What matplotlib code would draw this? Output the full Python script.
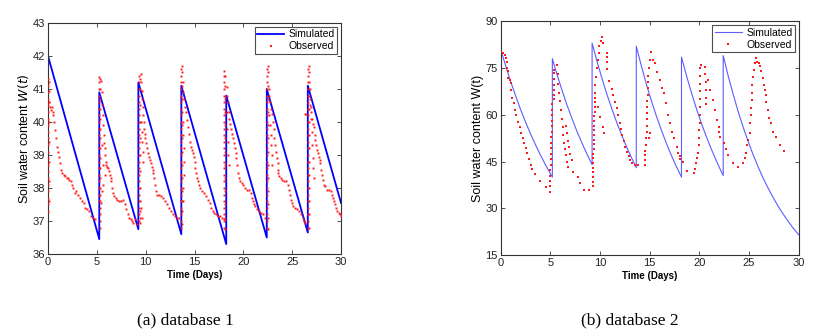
import matplotlib
matplotlib.use("Agg")
import matplotlib.pyplot as plt
import numpy as np

plt.rcParams['font.family'] = ['Liberation Sans', 'DejaVu Sans']

# ---------------- database 1 ----------------
sim1_t = [0, 5.25, 5.25, 9.25, 9.25, 13.65, 13.65, 18.25, 18.25, 22.4, 22.4, 26.6, 26.6, 30]
sim1_w = [42.0, 36.45, 40.9, 36.75, 41.2, 36.6, 41.1, 36.3, 40.8, 36.5, 41.0, 36.65, 41.1, 37.55]

# rise columns (time, list of water contents)
rise1_times = [0.03, 0.06, 5.25, 5.35, 9.3, 9.42, 13.62, 13.72, 18.0, 18.15, 22.4, 22.52, 26.6, 26.7]
rise1_values = [
    [37.3, 37.5, 37.7, 37.9, 38.1, 38.3, 38.5, 38.7, 38.9, 39.1, 39.3, 39.5, 39.7, 39.9, 40.1, 40.3, 40.5, 40.7, 40.9, 41.1, 41.3],
    [37.6, 38.2, 38.8, 39.4, 40.0, 40.6, 41.2],
    [37.6, 37.8, 38.0, 38.2, 38.4, 38.6, 38.8, 39.0, 39.2, 39.4, 39.6, 39.8, 40.0, 40.2, 40.4, 40.6, 40.8, 41.0, 41.2, 41.35],
    [36.8, 37.0, 37.2, 37.4, 37.6, 37.8, 38.0, 38.3, 38.6, 38.9, 39.2, 39.5, 39.8, 40.1, 40.4, 40.7, 41.0, 41.3],
    [37.0, 37.2, 37.4, 37.6, 37.8, 38.0, 38.2, 38.4, 38.6, 38.8, 39.0, 39.2, 39.4, 39.6, 39.8, 40.0, 40.2, 40.4, 40.6, 40.8, 41.0, 41.2, 41.4],
    [36.95, 37.1, 37.3, 37.6, 38.0, 38.5, 39.0, 39.5, 40.0, 40.5, 41.0, 41.3],
    [36.8, 37.0, 37.2, 37.4, 37.6, 37.8, 38.0, 38.2, 38.4, 38.6, 38.8, 39.0, 39.2, 39.4, 39.6, 39.8, 40.0, 40.2, 40.4, 40.6, 40.8, 41.0, 41.2, 41.4, 41.6],
    [36.9, 37.3, 37.6, 37.9, 38.3, 38.7, 39.1, 39.5, 39.9, 40.3, 40.7, 41.1, 41.5, 41.7],
    [36.8, 37.0, 37.2, 37.4, 37.6, 37.8, 38.0, 38.2, 38.4, 38.6, 38.8, 39.0, 39.2, 39.4, 39.6, 39.8, 40.0, 40.2, 40.4, 40.6, 40.8, 41.0, 41.2, 41.4, 41.55],
    [36.75, 37.1, 37.5, 37.9, 38.3, 38.7, 39.1, 39.5, 39.9, 40.3, 40.7, 41.1, 41.4],
    [36.8, 37.0, 37.2, 37.4, 37.6, 37.8, 38.0, 38.2, 38.4, 38.6, 38.8, 39.0, 39.2, 39.4, 39.6, 39.8, 40.0, 40.2, 40.4, 40.6, 40.8, 41.0, 41.2, 41.4, 41.6],
    [36.75, 37.1, 37.5, 37.9, 38.3, 38.7, 39.1, 39.5, 39.9, 40.3, 40.7, 41.1, 41.5, 41.7],
    [36.8, 37.0, 37.2, 37.4, 37.6, 37.8, 38.0, 38.2, 38.4, 38.6, 38.8, 39.0, 39.2, 39.4, 39.6, 39.8, 40.0, 40.2, 40.4, 40.6, 40.8, 41.0, 41.2, 41.4, 41.6],
    [36.8, 37.2, 37.6, 38.0, 38.4, 38.8, 39.2, 39.6, 40.0, 40.4, 40.8, 41.2, 41.5, 41.7],
]

# decay points (t, W)
decay1_c0 = [(0.1, 40.95), (0.15, 40.6), (0.2, 40.45), (0.3, 40.35), (0.4, 40.45), (0.5, 40.3), (0.55, 40.2),
             (0.65, 40.0), (0.75, 39.75), (0.85, 39.5), (0.95, 39.25), (1.05, 39.1), (1.15, 38.95), (1.25, 38.75),
             (1.35, 38.55), (1.45, 38.45), (1.6, 38.4), (1.75, 38.35), (1.9, 38.3), (2.05, 38.3), (2.2, 38.25),
             (2.35, 38.2), (2.5, 38.1), (2.6, 38.0), (2.75, 37.85), (2.9, 37.9), (3.1, 37.8), (3.3, 37.7),
             (3.5, 37.6), (3.65, 37.55), (3.8, 37.4), (4.0, 37.35), (4.2, 37.3), (4.4, 37.15), (4.6, 37.1), (4.8, 37.05)]
decay1_c1 = [(5.45, 41.25), (5.5, 40.9), (5.55, 40.5), (5.6, 40.2), (5.65, 39.9), (5.7, 39.6), (5.75, 39.35),
             (5.8, 39.2), (5.85, 39.0), (5.9, 38.8), (5.95, 38.7), (6.0, 38.65), (6.1, 38.6), (6.2, 38.5),
             (6.3, 38.4), (6.4, 38.3), (6.5, 38.2), (6.6, 38.0), (6.7, 37.85), (6.8, 37.75), (6.95, 37.7),
             (7.1, 37.65), (7.3, 37.6), (7.5, 37.6), (7.7, 37.65), (7.85, 37.5), (8.0, 37.35), (8.15, 37.2),
             (8.3, 37.1), (8.45, 37.05), (8.6, 37.0), (8.75, 36.95), (8.9, 37.05), (9.1, 36.9),
             (5.56, 39.3), (5.66, 38.7), (5.8, 38.4), (5.66, 38.1), (5.56, 37.9), (5.46, 37.55)]
decay1_c2 = [(9.5, 41.45), (9.55, 41.2), (9.6, 40.95), (9.65, 40.7), (9.7, 40.45), (9.75, 40.2), (9.8, 40.0),
             (9.85, 39.8), (9.9, 39.65), (9.95, 39.5), (10.0, 39.35), (10.1, 39.2), (10.2, 39.05), (10.3, 38.95),
             (10.4, 38.85), (10.5, 38.75), (10.6, 38.65), (10.7, 38.55), (10.8, 38.45), (10.9, 38.3), (11.0, 38.1),
             (11.1, 37.9), (11.2, 37.8), (11.4, 37.8), (11.6, 37.75), (11.8, 37.7), (12.0, 37.6), (12.2, 37.5),
             (12.4, 37.4), (12.6, 37.3), (12.8, 37.2), (13.0, 37.15), (13.2, 37.1), (13.4, 37.1),
             (9.55, 40.0), (9.6, 39.7), (9.65, 39.4), (9.7, 39.1), (9.75, 38.8), (9.6, 37.1), (9.5, 37.4)]
decay1_c3 = [(13.8, 41.2), (13.85, 40.9), (13.9, 40.7), (14.0, 40.45), (14.1, 40.3), (14.2, 40.05), (14.3, 39.85),
             (14.4, 39.65), (14.5, 39.4), (14.6, 39.25), (14.7, 39.15), (14.8, 39.05), (14.9, 38.95), (15.0, 38.8),
             (15.1, 38.6), (15.2, 38.45), (15.3, 38.3), (15.4, 38.2), (15.5, 38.1), (15.6, 38.0), (15.8, 37.9),
             (16.0, 37.85), (16.2, 37.75), (16.4, 37.65), (16.6, 37.55), (16.7, 37.4), (16.85, 37.3), (17.0, 37.25),
             (17.2, 37.2), (17.4, 37.15), (17.6, 37.15), (17.8, 37.1), (18.0, 37.05),
             (13.8, 40.0), (13.85, 39.6), (13.9, 39.2), (13.95, 38.8), (13.9, 38.4), (13.85, 38.0), (13.8, 37.6)]
decay1_c4 = [(18.3, 41.05), (18.35, 40.8), (18.4, 40.6), (18.5, 40.3), (18.55, 40.1), (18.6, 39.95), (18.7, 39.8),
             (18.8, 39.65), (18.9, 39.5), (19.0, 39.35), (19.1, 39.2), (19.2, 39.05), (19.3, 38.9), (19.4, 38.7),
             (19.5, 38.45), (19.6, 38.3), (19.7, 38.2), (19.85, 38.15), (20.0, 38.1), (20.2, 38.0), (20.4, 37.95),
             (20.6, 37.95), (20.75, 37.85), (20.85, 37.7), (21.0, 37.6), (21.1, 37.5), (21.2, 37.45), (21.4, 37.35),
             (21.6, 37.3), (21.8, 37.25), (22.0, 37.2), (22.2, 37.1),
             (18.3, 40.3), (18.35, 39.8), (18.4, 39.4), (18.45, 39.0), (18.5, 38.7)]
decay1_c5 = [(22.6, 41.0), (22.65, 40.8), (22.7, 40.6), (22.8, 40.4), (22.9, 40.25), (23.0, 40.0), (23.1, 39.8),
             (23.15, 39.5), (23.2, 39.3), (23.3, 39.1), (23.4, 38.9), (23.5, 38.75), (23.55, 38.55), (23.6, 38.45),
             (23.7, 38.35), (23.85, 38.3), (24.0, 38.25), (24.2, 38.2), (24.4, 38.2), (24.6, 38.1), (24.7, 37.95),
             (24.8, 37.8), (24.9, 37.65), (25.0, 37.55), (25.1, 37.45), (25.3, 37.4), (25.5, 37.35), (25.7, 37.3),
             (25.9, 37.2), (26.1, 37.1), (26.2, 37.0), (26.3, 36.95),
             (22.65, 40.2), (22.7, 39.9), (22.8, 39.6), (22.85, 39.3), (22.9, 39.0), (22.95, 38.7),
             (26.3, 40.25), (26.4, 40.25)]
decay1_c6 = [(26.8, 41.0), (26.85, 40.7), (26.9, 40.45), (26.95, 40.3), (27.0, 40.1), (27.1, 39.95), (27.2, 39.85),
             (27.3, 39.6), (27.35, 39.45), (27.45, 39.3), (27.5, 39.15), (27.6, 39.05), (27.7, 38.95), (27.8, 38.85),
             (27.9, 38.75), (28.0, 38.55), (28.1, 38.4), (28.2, 38.25), (28.3, 38.1), (28.4, 38.05), (28.6, 37.95),
             (28.8, 37.95), (29.0, 37.9), (29.1, 37.8), (29.2, 37.7), (29.3, 37.6), (29.4, 37.5), (29.5, 37.4),
             (29.6, 37.3), (29.75, 37.25), (29.9, 37.2), (30.0, 37.15),
             (26.8, 40.5), (26.9, 40.1), (27.0, 39.7), (27.05, 39.3), (27.1, 38.9), (27.15, 38.6), (27.2, 38.3)]

# ---------------- database 2 ----------------
sim2_t = [0, 0.5, 1.0, 1.5, 2.0, 2.5, 3.0, 3.5, 4.0, 4.5, 5.0, 5.2,
          5.2, 5.7, 6.2, 6.7, 7.2, 7.7, 8.2, 8.7, 9.2,
          9.2, 9.7, 10.2, 10.7, 11.2, 11.7, 12.2, 12.7, 13.2, 13.65,
          13.65, 14.15, 14.65, 15.15, 15.65, 16.15, 16.65, 17.15, 17.65, 18.2,
          18.2, 18.7, 19.2, 19.7, 20.2, 20.7, 21.2, 21.7, 22.2, 22.4,
          22.4, 22.9, 23.4, 23.9, 24.4, 24.9, 25.4, 25.9, 26.4, 26.9, 27.4, 27.9, 28.4, 28.9, 29.4, 30.0]
sim2_w = [81.0, 75.7, 70.7, 66.1, 61.7, 57.7, 53.9, 50.4, 47.1, 44.0, 41.1, 40.0,
          78.0, 72.6, 67.6, 62.9, 58.6, 54.5, 50.8, 47.3, 44.0,
          83.0, 77.1, 71.6, 66.5, 61.8, 57.4, 53.3, 49.5, 46.0, 43.0,
          82.0, 75.8, 70.0, 64.7, 59.8, 55.3, 51.1, 47.2, 43.6, 40.0,
          78.5, 72.6, 67.1, 62.0, 57.3, 53.0, 49.0, 45.3, 41.8, 40.5,
          79.0, 72.5, 66.6, 61.1, 56.1, 51.5, 47.3, 43.4, 39.8, 36.6, 33.6, 30.8, 28.3, 26.0, 23.8, 21.5]

obs2_c0 = [(0.07, 80.3), (0.23, 79.7), (0.4, 79.2), (0.57, 78.1), (0.67, 77.0), (0.6, 74.9), (0.77, 73.9),
           (0.74, 71.7), (0.9, 71.2), (1.0, 70.1), (1.07, 68.0), (1.17, 65.3), (1.3, 63.7), (1.42, 61.5),
           (1.58, 59.9), (1.74, 57.8), (1.9, 56.2), (2.05, 54.3), (2.2, 52.6), (2.35, 51.0), (2.5, 49.3),
           (2.65, 47.6), (2.85, 45.7), (3.0, 44.0), (3.2, 42.5), (3.45, 41.0), (3.96, 38.9), (4.56, 36.9),
           (4.93, 35.3)]
obs2_c1 = [(4.95, 37.0), (4.95, 38.8), (5.0, 40.5), (5.0, 42.3), (5.02, 44.0), (5.05, 45.8), (5.05, 47.5),
           (5.08, 49.3), (5.1, 51.0), (5.1, 52.8), (5.12, 54.5), (5.12, 56.3), (5.15, 58.0), (5.15, 59.8),
           (5.15, 61.5), (5.15, 63.3), (5.32, 65.0), (5.32, 66.5), (5.35, 68.0), (5.35, 69.7), (5.38, 71.5),
           (5.38, 73.3), (5.4, 74.5), (5.62, 76.0),
           (5.72, 73.0), (5.8, 70.0), (5.9, 67.0), (6.0, 64.5), (6.1, 61.5), (6.17, 58.5), (6.24, 56.0),
           (6.3, 53.5), (6.4, 51.0), (6.5, 49.0), (6.6, 47.0), (6.7, 45.0), (6.8, 43.4), (7.3, 41.7),
           (7.8, 40.1), (7.95, 38.2), (8.35, 35.9), (8.85, 35.8),
           (6.55, 56.5), (6.65, 54.0), (6.75, 51.5), (6.85, 49.5), (7.0, 47.5), (7.2, 45.5)]
obs2_c2 = [(9.25, 37.2), (9.25, 38.5), (9.28, 40.0), (9.28, 41.5), (9.3, 43.0), (9.3, 44.5), (9.32, 46.0),
           (9.32, 47.5), (9.35, 49.0), (9.35, 50.5), (9.38, 52.0), (9.38, 53.5), (9.4, 55.0), (9.4, 56.5),
           (9.42, 58.0), (9.42, 59.5), (9.45, 61.0), (9.45, 62.5), (9.48, 64.0), (9.48, 65.5), (9.5, 67.0),
           (9.5, 69.6), (9.6, 72.2), (9.73, 74.9), (9.83, 77.6), (9.93, 79.7), (9.93, 82.0), (10.07, 83.8),
           (10.17, 85.1), (10.33, 82.9), (10.67, 79.9), (10.67, 78.7), (10.67, 77.0), (10.7, 74.7),
           (10.94, 70.8), (11.17, 68.2), (11.27, 66.5), (11.5, 64.2), (11.7, 62.1), (11.85, 59.9),
           (12.0, 57.5), (12.1, 55.5), (12.25, 53.5), (12.4, 51.5), (12.55, 49.8), (12.7, 48.2),
           (12.9, 46.8), (13.05, 45.5), (13.25, 44.4), (13.5, 44.0), (13.85, 44.0),
           (9.83, 62.6), (10.0, 59.4), (10.27, 56.2), (10.4, 54.0)]
obs2_c3 = [(14.5, 43.9), (14.52, 45.5), (14.55, 47.0), (14.55, 48.5), (14.58, 50.3), (14.65, 52.5),
           (14.7, 54.5), (14.7, 56.5), (14.72, 58.5), (14.72, 60.5), (14.75, 62.5), (14.75, 64.5),
           (14.78, 66.5), (14.8, 68.5), (14.8, 70.5), (14.85, 72.5), (14.9, 75.0), (15.0, 77.6),
           (15.17, 80.0), (15.35, 77.6), (15.5, 76.5), (15.7, 73.8), (16.0, 71.2), (16.2, 68.5),
           (16.4, 66.9), (16.6, 63.7), (16.8, 60.0), (17.0, 57.3), (17.2, 54.6), (17.4, 52.5),
           (17.7, 49.8), (17.85, 47.6), (18.0, 46.8), (18.05, 45.7), (18.4, 44.8), (18.8, 42.1),
           (14.9, 52.5), (15.0, 54.0)]
obs2_c4 = [(19.5, 41.4), (19.6, 42.5), (19.7, 44.4), (19.8, 46.0), (19.9, 47.6), (19.96, 50.3), (20.0, 52.5),
           (20.0, 55.0), (20.02, 57.5), (20.05, 60.0), (20.06, 62.5), (20.08, 65.0), (20.08, 67.5),
           (20.1, 70.0), (20.1, 72.5), (20.1, 75.0), (20.12, 76.0), (20.6, 75.4), (20.6, 73.0),
           (20.62, 70.5), (20.65, 68.0), (20.68, 65.5), (20.7, 63.5), (20.9, 71.2), (21.1, 68.0),
           (21.4, 64.8), (21.6, 61.5), (21.8, 58.3), (22.0, 56.2), (22.0, 54.6), (22.1, 53.0),
           (22.5, 50.9), (22.7, 49.0), (22.9, 47.1), (23.35, 44.4), (23.9, 43.4)]
obs2_c5 = [(24.4, 44.4), (24.6, 46.0), (24.7, 47.6), (24.8, 50.3), (24.9, 51.9), (25.07, 54.1), (25.13, 57.3),
           (25.18, 59.9), (25.23, 62.1), (25.25, 64.8), (25.3, 66.9), (25.32, 69.6), (25.4, 72.2),
           (25.47, 74.4), (25.57, 76.5), (25.67, 78.1), (25.8, 77.0), (26.0, 76.5), (26.1, 75.5),
           (26.2, 73.9), (26.4, 71.7), (26.5, 69.6), (26.6, 68.0), (26.7, 66.4), (26.75, 64.2),
           (26.9, 61.6), (27.0, 58.9), (27.25, 57.3), (27.4, 54.6), (27.7, 53.0), (28.1, 50.3), (28.5, 48.5)]

x_ticks = [0, 5, 10, 15, 20, 25, 30]
y1_ticks = [36, 37, 38, 39, 40, 41, 42, 43]
y2_ticks = [15, 30, 45, 60, 75, 90]


def style_axes(ax):
    for s in ax.spines.values():
        s.set_color('#333333')
        s.set_linewidth(0.8)
    ax.tick_params(direction='in', length=3, width=0.6, colors='#333333',
                   top=True, right=True, labelsize=8, pad=2, labelcolor='#222222')


def style_legend(leg):
    leg.get_frame().set_edgecolor('#222222')
    leg.get_frame().set_linewidth(0.8)


fig = plt.figure(figsize=(8.26, 3.35), dpi=100)
ax1 = fig.add_axes([48 / 826, 1 - 254 / 335, (341 - 48) / 826, (254 - 23) / 335])
ax2 = fig.add_axes([500.7 / 826, 1 - 255 / 335, (798.7 - 500.7) / 826, (255 - 21.3) / 335])

# left
ax1.plot(sim1_t, sim1_w, color='#0000ff', lw=1.3, label='Simulated', zorder=2)
ot, ow = [], []
for tt, vals in zip(rise1_times, rise1_values):
    ot += [tt] * len(vals)
    ow += vals
for cyc in [decay1_c0, decay1_c1, decay1_c2, decay1_c3, decay1_c4, decay1_c5, decay1_c6]:
    ot += [p[0] for p in cyc]
    ow += [p[1] for p in cyc]
ax1.plot(ot, ow, ls='none', marker='s', ms=1.4, mew=0, color='#ff1a1a', label='Observed', zorder=3)
ax1.set_xlim(0, 30)
ax1.set_ylim(36, 43)
ax1.set_xticks(x_ticks)
ax1.set_yticks(y1_ticks)
style_axes(ax1)
ax1.set_xlabel('Time (Days)', fontsize=7, fontweight='bold', labelpad=2)
ax1.set_ylabel('Soil water content $W(t)$', fontsize=9, labelpad=1)
leg1 = ax1.legend(loc='upper right', fontsize=7.5, frameon=True, fancybox=False,
                  borderaxespad=0.35, handlelength=2.6, handletextpad=0.4, borderpad=0.25,
                  labelspacing=0.2, markerscale=1.5)
style_legend(leg1)

# right
ax2.plot(sim2_t, sim2_w, color='#5c5cff', lw=0.8, label='Simulated', zorder=2)
t2, w2 = [], []
for cyc in [obs2_c0, obs2_c1, obs2_c2, obs2_c3, obs2_c4, obs2_c5]:
    t2 += [p[0] for p in cyc]
    w2 += [p[1] for p in cyc]
ax2.plot(t2, w2, ls='none', marker='s', ms=2.0, mew=0, color='#ff1a1a', label='Observed', zorder=3)
ax2.set_xlim(0, 30)
ax2.set_ylim(15, 90)
ax2.set_xticks(x_ticks)
ax2.set_yticks(y2_ticks)
style_axes(ax2)
ax2.set_xlabel('Time (Days)', fontsize=7, fontweight='bold', labelpad=2)
ax2.set_ylabel('Soil water content W(t)', fontsize=9, labelpad=1)
leg2 = ax2.legend(loc='upper right', fontsize=7.5, frameon=True, fancybox=False,
                  borderaxespad=0.35, handlelength=2.6, handletextpad=0.4, borderpad=0.25,
                  labelspacing=0.2, markerscale=1.0)
style_legend(leg2)

# captions
fig.text(185 / 826, 1 - 320 / 335, '(a) database 1', ha='center', va='center',
         fontsize=12.5, family='Liberation Serif')
fig.text(630 / 826, 1 - 320 / 335, '(b) database 2', ha='center', va='center',
         fontsize=12.5, family='Liberation Serif')

fig.savefig('out.png', dpi=100)
